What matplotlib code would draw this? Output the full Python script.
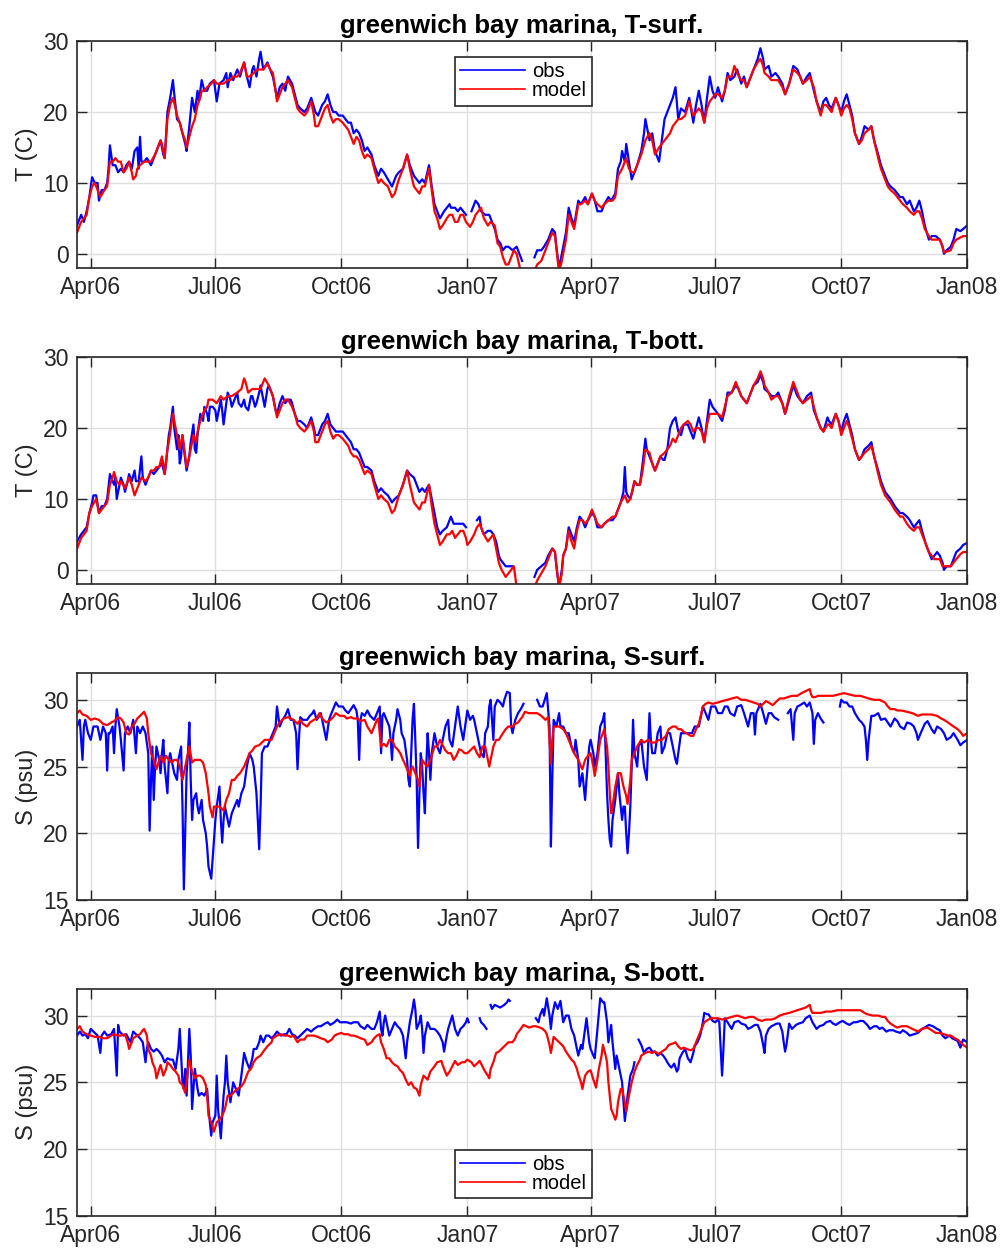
import numpy as np
import pandas as pd
import matplotlib
matplotlib.use("Agg")
import matplotlib.pyplot as plt
import matplotlib.dates as mdates

nan = np.nan
T0 = pd.Timestamp("2006-03-22")
T1 = pd.Timestamp("2008-01-01")

# (day since 22 Mar 2006, value) pairs; nan = gap in record
tsurf_obs = [(0,4),(3,5.5),(5,4.5),(7,6),(9,8),(11,10.8),(13,10),(15,10),(16,7.5),(18,9),(20,9),(22,10),(23,12),(24,15.3),(26,12.5),(28,12.5),(30,11.5),(32,12),(34,11.5),(36,12.5),(38,13),(40,12),(42,14.5),(44,15),(45,12),(46,16.5),(47,13),(49,13),(51,13.5),(54,12.5),(57,14),(59,15),(61,16),(63,14),(64,13.5),(66,20),(68,22),(70,24.5),(71,22.5),(73,19),(75,18.5),(77,17),(79,15.5),(80,14.5),(82,18),(84,22),(86,20),(88,23),(89,21.5),(91,24.5),(93,23),(95,23),(97,24),(100,24.5),(102,21.5),(104,24),(107,24.5),(109,25.5),(110,23.5),(112,25.5),(114,24.5),(117,26),(119,25),(122,27),(124,25),(126,23.5),(128,26),(129,26.5),(131,25),(133,27.5),(134,28.5),(136,26),(139,27),(141,26),(143,25),(146,22),(148,23.5),(150,24),(152,23),(154,25),(157,24),(159,22.5),(161,21),(163,20.5),(166,20),(168,20.5),(171,22),(174,20),(176,19.5),(179,21),(181,21.5),(183,22.5),(185,21),(187,20),(189,20),(191,19.5),(194,19.5),(196,19),(198,18.5),(200,18.5),(202,17),(204,17.5),(206,17),(208,16),(210,14.5),(212,15),(215,14),(217,12.5),(220,11),(222,12),(224,11.5),(227,10.5),(230,9.5),(233,11),(235,11.5),(238,12),(241,14),(243,12.5),(246,11),(248,10.5),(250,10),(252,10.5),(254,10),(257,12.5),(259,9.5),(261,7),(263,6),(265,5),(268,6),(270,6.5),(272,7),(273,6.5),(276,6.5),(278,6),(280,6.5),(282,6),(284,5.5),(285,nan),(288,6),(290,7),(291,7.5),(293,7),(295,6),(298,5.5),(301,5.5),(303,4.5),(305,3.5),(307,2),(309,1.5),(311,0.5),(313,1),(315,1),(318,0.5),(321,1),(323,0),(325,-1),(327,nan),(334,-0.5),(336,0.5),(339,0.5),(341,1),(344,2),(347,3.5),(349,3),(350,1),(352,-2),(354,0),(357,3),(359,6.5),(361,5),(363,4),(366,7.5),(368,7),(371,8),(373,7),(376,8.5),(378,7.5),(380,6),(383,6),(385,7),(388,8),(390,7.5),(393,8.5),(395,12),(397,13),(398,14.5),(400,13),(401,15.5),(403,13),(405,10.5),(407,11.5),(409,12.5),(412,14.5),(414,17),(415,19),(416,18),(418,16),(420,17),(422,14.5),(425,13),(427,16),(429,19),(431,20),(433,21),(435,22),(437,23.5),(439,19),(441,20.5),(444,20),(447,22),(450,18.5),(452,21),(454,23),(456,21),(458,18.5),(460,22),(462,25),(464,23),(466,22),(468,23.5),(471,21.5),(473,23),(475,25.5),(477,24.5),(480,25),(482,26),(485,24),(487,25),(489,23.5),(492,25),(494,26),(497,27.5),(499,29),(501,27.5),(502,26),(505,26.5),(507,25),(510,25.5),(512,25),(515,24),(517,22.5),(520,24),(523,26.5),(526,26),(528,25),(530,24),(533,25),(535,25.5),(538,23),(540,21.5),(543,20),(545,21.5),(547,22),(549,21),(551,20.5),(554,22),(556,21),(558,20),(560,21.5),(562,22.5),(564,21),(566,19.5),(568,17),(571,15.5),(573,16.5),(575,18),(578,17.5),(580,18),(582,16),(585,14),(587,12.5),(590,11),(592,10),(594,9.5),(597,9),(599,8.5),(601,8),(603,8),(606,7),(608,7.5),(611,6),(613,6.5),(615,7.5),(617,6),(619,4),(622,2),(624,2.5),(627,2.5),(630,2),(632,1),(633,0),(635,0.5),(638,1),(640,2),(642,3.5),(645,3.2),(647,3.5),(650,4)]

tsurf_mod = [(0,3),(3,4.5),(7,5.5),(9,8),(11,9.5),(13,10),(15,9),(17,8),(20,9),(22,9.5),(24,13),(26,13),(28,13.5),(30,13),(32,13),(34,11.5),(36,12),(38,13),(40,11.5),(41,10.5),(43,11),(44,12),(46,12.5),(49,13),(52,13),(54,13),(57,14),(59,15),(61,16),(62,15.5),(63,14.5),(64,13.5),(66,19),(68,21),(70,22),(72,20.5),(73,19.5),(75,18.5),(77,17),(79,16),(80,15),(82,16.5),(84,18),(86,19),(88,21),(90,22),(91,23),(93,23),(95,23.5),(98,24),(100,24.5),(102,24),(104,24),(107,24),(110,24.5),(112,24.5),(114,25),(117,25),(119,25.5),(122,27),(124,25),(126,25),(129,25.5),(132,26),(134,26),(136,26),(139,26.8),(141,26),(143,25.5),(145,23),(146,21.5),(148,22.5),(150,23.5),(152,24),(154,24.5),(157,23.5),(159,22),(161,20.5),(163,20),(166,19.5),(168,20),(171,21.5),(173,19.5),(174,18),(176,18),(179,19.5),(181,20.5),(183,21),(185,19.5),(187,18.5),(189,19),(191,19),(194,18.5),(196,18),(198,17.5),(200,16.5),(202,15.5),(204,16.5),(206,16),(208,14.5),(210,13.5),(212,14),(215,13.5),(217,12),(220,10),(222,10.5),(224,10),(227,9.5),(230,8),(232,8.5),(235,10.5),(238,12),(241,14),(243,12),(246,9.5),(248,9),(250,8.5),(252,9.5),(254,9.5),(257,12),(259,9),(261,6),(263,5),(265,3.5),(267,4),(270,5),(272,5.5),(274,5.5),(276,4.5),(278,4.5),(280,5.5),(282,5.5),(284,4.5),(287,3.8),(289,4.5),(291,5.5),(293,6),(295,6.5),(297,5),(300,4),(302,4.5),(305,4),(307,1.5),(309,1),(311,-0.5),(313,-1.5),(315,-1.5),(317,-0.5),(319,0.5),(321,0),(324,-2.5),(334,-2.5),(336,-1.5),(339,-1),(341,0),(344,1.5),(347,3),(349,2.5),(351,-1),(352,-2.5),(354,-1),(357,2),(359,5.5),(361,4.5),(363,3.5),(366,7),(368,7),(371,7.5),(373,7),(376,8.5),(378,7.5),(380,7),(383,6.5),(385,7),(388,7.5),(391,7.5),(393,8),(395,11),(398,12),(401,13.5),(403,12),(405,11.5),(407,11.5),(409,12.5),(412,14),(415,16),(418,17),(420,16),(422,14),(425,15),(427,15.5),(429,16),(431,16.5),(433,17),(435,18),(437,18.5),(439,19),(441,19),(444,19.5),(447,21.5),(450,19.5),(452,20),(454,20.5),(456,20),(458,18.5),(460,20.5),(462,21.5),(464,22),(466,22.5),(468,22.5),(471,22),(473,23),(475,25),(478,25),(480,26.5),(482,25.5),(485,24.5),(487,24.5),(489,23.5),(492,25),(494,26),(497,27),(499,27.5),(501,26.5),(502,25.5),(505,25),(507,24.5),(510,24.5),(512,24.5),(515,23.5),(517,22.5),(520,24),(523,26),(526,25.5),(528,25),(530,24),(533,24.5),(535,25),(538,23.5),(540,21.5),(543,19.5),(545,21),(547,21),(549,20.5),(551,20),(554,22),(556,21),(558,19.5),(560,20.5),(562,21),(564,20.5),(566,19),(568,17),(571,15.5),(573,16),(575,17),(578,17.5),(580,18),(582,16),(585,13.5),(587,12),(590,10.5),(592,9.5),(594,9),(597,8.5),(599,8),(601,7.5),(603,7),(606,6.5),(608,6),(611,5.5),(613,6),(615,6),(617,5),(619,3.5),(622,2.5),(624,2),(627,2),(630,2),(632,1),(633,0.2),(635,0.3),(638,0.5),(640,1.5),(642,2),(645,2.3),(647,2.5),(650,2.5)]

tbott_obs = [(0,4),(3,5),(5,5.5),(7,6),(9,8),(11,9.5),(12,10.5),(14,10.5),(16,8),(18,9),(20,9),(22,10),(24,13.5),(26,12.5),(27,12),(28,13),(29,10),(31,12),(32,13),(34,12),(35,11),(37,12.5),(38,13.5),(40,12.5),(42,14),(43,12.5),(45,12.5),(47,16),(48,13),(50,12),(52,13),(54,14),(56,13.5),(58,14),(60,14.5),(62,15),(64,13.5),(65,15),(67,19),(68,20),(70,23),(71,20),(73,17),(74,19),(75,15),(76,16),(77,19),(79,15.5),(80,14),(82,16),(83,18),(85,20.5),(86,17),(87,16.5),(88,19),(90,22),(92,21),(93,23),(95,22),(96,21),(97,23),(99,23),(101,22.5),(102,21),(104,23),(105,24),(106,22.5),(107,20.5),(109,23.5),(110,25),(112,24),(113,23),(115,24),(117,25),(118,23.5),(120,23),(122,24),(123,23),(125,22.5),(127,24.5),(128,24.5),(130,23),(131,23.5),(133,25),(134,26),(136,24),(137,23),(139,25.5),(140,26),(142,25),(143,24.5),(145,22.5),(146,22),(148,23.5),(150,24.5),(152,23.5),(154,24),(156,24),(157,23.5),(159,22),(161,21),(163,21),(166,20.5),(168,20),(171,21.5),(173,20),(174,19),(176,19),(179,20.5),(181,21),(183,22),(185,20.5),(187,20),(189,19.5),(191,19.5),(194,19.5),(196,19),(198,18.5),(200,18),(202,17),(204,17),(206,16.5),(208,15.5),(210,14.5),(212,14.5),(215,14),(217,12.5),(220,11),(222,11.5),(224,11),(227,10.5),(230,9.5),(232,10),(235,10.5),(238,12),(241,14),(243,13.5),(246,13),(248,12),(250,11),(252,11.5),(254,11),(257,12),(259,10),(261,8),(263,6),(265,5),(267,5.5),(270,6),(272,7),(273,7.5),(275,6.5),(278,6.5),(280,6.5),(282,6.5),(284,6),(285,nan),(292,7),(294,7.5),(295,6),(297,5),(300,5.5),(302,5.5),(304,5),(306,4),(308,2),(309,1.5),(311,1),(313,0.5),(315,0.5),(318,0.5),(319,nan),(334,-1),(336,0),(339,0.5),(342,1),(344,2),(347,3),(349,2.5),(350,0.5),(352,-2.5),(354,0),(355,2),(357,3),(359,6),(361,5),(363,4),(365,6),(367,7.5),(369,7),(371,6),(373,7),(376,8),(378,7.5),(380,6),(383,6),(385,6.5),(388,7),(391,7),(393,7.5),(395,8.5),(397,9.5),(399,11),(400,14.5),(401,11),(402,10.5),(404,10),(406,11.5),(407,12.5),(409,12),(411,12),(413,15),(415,18.5),(416,17),(418,16),(420,15),(422,14),(424,15),(426,16),(428,15.5),(429,15.5),(431,17),(433,20),(435,21),(437,21.5),(439,19.5),(441,19),(443,20.5),(446,20.5),(448,19.5),(450,18.5),(452,20),(454,21.5),(456,20),(458,18),(460,21),(462,24),(464,23),(466,22.5),(468,22),(471,21),(473,22.5),(475,25),(478,25),(481,26),(483,25.5),(485,24.5),(487,24),(489,23.5),(492,25),(494,26),(497,26.5),(499,27.5),(501,26.5),(502,25.5),(505,25),(507,24.5),(510,24.5),(512,25),(515,23.5),(517,22),(520,24),(523,26),(526,24.5),(528,24),(530,23.5),(533,24.5),(536,25),(538,22.5),(540,21.5),(543,20),(545,19.5),(548,21.5),(549,21),(551,20.5),(554,22),(556,21),(558,19.5),(560,21),(562,22),(564,20.5),(566,19),(568,17),(571,15.5),(573,16),(575,17),(578,17.5),(580,18),(582,16),(585,14),(587,12.5),(590,11),(592,10.5),(594,10),(597,9),(599,8.5),(601,8),(603,8),(606,7.5),(608,7),(611,6),(613,6.5),(615,7),(617,5.5),(620,3.5),(622,2.5),(624,1.5),(626,2),(628,2.5),(630,2),(632,1),(633,0),(635,0.5),(638,0.5),(640,1.5),(642,2.5),(645,3),(647,3.5),(650,3.8)]

tbott_mod = [(0,3),(3,4.5),(5,5),(7,5.5),(9,8),(11,9),(14,10),(16,8),(18,8.5),(20,9),(22,9.5),(24,12),(26,13),(27,13.8),(29,12.5),(31,12),(32,12.5),(35,11.5),(37,12.5),(38,13),(40,12),(42,10.5),(43,11),(45,12),(47,13),(50,12.5),(52,13),(54,14),(56,14),(58,14.5),(60,14.5),(62,16),(63,15),(64,13.5),(66,17),(67,18),(70,22),(72,20),(73,19),(75,17),(77,19),(79,16),(80,14.5),(82,16),(83,17),(85,19),(87,18),(88,19.5),(90,21),(93,22.5),(95,23),(96,24),(99,24),(102,23.5),(105,24.5),(107,24),(110,24.5),(113,24.5),(117,25),(120,25.5),(122,27),(123,26.5),(125,25),(128,25.5),(131,25.5),(134,25.5),(137,27),(140,26),(143,24.5),(145,22.5),(146,21.5),(148,22.5),(150,23.5),(152,24),(154,24),(157,23),(159,22),(161,20.5),(163,20),(166,19.5),(168,20),(171,21),(173,19.5),(174,18),(176,18),(179,19.5),(181,20.5),(183,21),(185,19.5),(187,18.5),(189,19),(191,19),(194,18.5),(196,18),(198,17.5),(200,16.5),(202,16),(204,16),(206,15.5),(208,14.5),(210,13.5),(212,14),(215,13.5),(217,12),(220,10),(222,10.5),(224,10),(227,9.5),(230,8),(232,8.5),(235,10.5),(238,12),(241,14),(243,12),(246,9.5),(248,9),(250,8.5),(252,9.5),(254,9.5),(257,12),(259,9),(261,6.5),(263,5),(265,3.5),(267,4),(270,5),(272,5),(274,5.5),(276,4.5),(278,5),(280,5.5),(282,5.5),(284,4.5),(285,3.5),(287,4),(290,5),(292,6),(294,6.5),(296,5.5),(297,5),(300,4),(302,4.5),(304,5),(306,3),(308,1),(310,0),(313,-1),(315,-0.5),(317,0),(319,0.5),(321,-2.5),(334,-2.5),(336,-1.5),(339,-0.5),(342,0.5),(344,1.5),(347,3),(349,2.5),(351,-1),(352,-2.5),(354,-0.5),(355,2),(357,3),(359,5.5),(361,4),(363,3),(365,5.5),(367,7),(369,7),(371,6.5),(373,7),(376,8.5),(378,7.5),(380,6.5),(383,6),(385,6.5),(388,7),(391,7.5),(393,7.5),(395,8.5),(397,9.5),(400,10.5),(402,9.5),(404,10),(407,12.5),(409,12),(411,12),(413,14),(415,17),(418,16.5),(420,15),(422,14),(424,15),(426,16),(429,16.5),(431,17),(433,17.5),(435,18.5),(437,18),(439,19),(441,20),(443,20.5),(446,21),(448,20.5),(450,19.5),(452,20),(454,20),(456,19.5),(458,18),(460,20.5),(462,22),(464,22),(466,22),(468,22),(471,21.5),(473,23),(475,24.5),(478,25),(481,26.5),(483,25.5),(485,24.5),(487,24),(489,23.5),(492,25),(494,26),(497,27),(499,28),(501,27),(502,26),(505,25),(507,24),(510,24.5),(512,24.5),(515,23.5),(517,22),(520,24.5),(523,26.5),(526,25),(528,24),(530,23.5),(533,24),(536,24.5),(538,23),(540,21.5),(543,20),(545,19.5),(548,20.5),(549,20.5),(551,20),(554,22),(556,21),(558,19),(560,20),(562,21),(564,20),(566,18.5),(568,17),(571,15.5),(573,16),(575,16.5),(578,17),(580,17.5),(582,16),(585,13.5),(587,12),(590,10.5),(592,10),(594,9.5),(597,8.5),(599,8),(601,7.5),(603,7.5),(606,6.5),(608,6),(611,5.5),(613,6),(615,6),(617,5),(620,3.5),(622,2.5),(624,2),(626,1.5),(628,1.5),(630,1.5),(632,0.5),(633,0.5),(635,0.5),(638,0.5),(640,1),(642,1.5),(645,2.2),(647,2.5),(650,2.5)]

ssurf_obs = [(0,28),(2,28.5),(4,25.5),(5,28),(6,28.5),(8,27.5),(10,27),(12,28),(15,28),(17,27),(19,28),(21,27.5),(22,24.7),(23,27.5),(24,27.5),(26,28),(27,26),(28,28),(29,29.3),(31,28),(32,27),(34,24.7),(35,27.5),(37,28),(39,27.5),(41,28.5),(43,26),(44,28),(46,27.5),(48,28),(50,27.5),(52,26),(53,20.2),(54,24),(55,26.5),(56,22.5),(57,25),(58,26.5),(60,25.5),(61,24.5),(62,26),(63,27),(64,25),(66,23),(67,25.5),(68,26),(70,25),(71,24.5),(73,24),(74,25.5),(76,26.5),(77,22),(78,15.8),(79,20),(80,24.5),(81,26),(82,28.3),(83,24),(84,21),(85,22.5),(87,23),(88,22),(89,21.5),(91,22.5),(92,21),(94,20),(95,19),(96,17.5),(98,16.6),(99,18),(100,19.5),(101,21),(102,22),(104,23.5),(105,21),(106,19.3),(107,21),(108,22),(110,21),(111,20.5),(113,21.5),(115,22),(117,22.5),(118,22),(120,23),(122,23.5),(124,25),(126,26),(128,25.5),(129,25),(131,23),(132,21),(133,18.8),(134,22),(135,26),(137,26.5),(139,26.5),(141,27),(143,27.5),(145,28),(146,29.5),(148,28),(150,28.5),(152,28.8),(154,29.3),(156,28.5),(158,28.5),(160,27.5),(161,24.8),(162,27),(163,28.7),(165,28.5),(168,28.5),(170,28.8),(172,29),(173,29.2),(175,28.5),(177,28.8),(178,29),(180,28),(182,27),(184,28.5),(185,28.8),(187,29.3),(189,29.8),(191,29.5),(194,29.5),(196,29.2),(198,29),(200,29.3),(202,29.6),(204,29.2),(205,28.5),(206,25.5),(207,28.5),(208,29),(210,28.8),(212,29.2),(214,28.8),(217,28.5),(219,29),(221,29.5),(222,26),(223,28.8),(224,29),(226,28.5),(228,28),(229,27),(230,25.5),(231,27.5),(233,28.5),(234,29.3),(236,28.5),(237,27.5),(239,27),(241,25.5),(242,24),(243,23.5),(244,26),(245,28.5),(246,29.7),(247,27),(248,24),(249,18.9),(250,23),(251,26),(252,25),(253,23),(254,21.5),(255,25),(256,27.5),(257,26),(258,24),(259,26),(261,27.5),(263,26.5),(265,26),(267,27),(269,28),(271,28.5),(272,27),(274,26.5),(276,28),(278,29.5),(280,28),(282,27),(284,28.5),(285,29.2),(287,28.5),(289,28.8),(290,28.5),(292,27.5),(294,26.5),(295,26),(297,25.7),(298,27.5),(300,28),(301,29.5),(302,30),(304,27),(305,29.5),(307,30),(309,29.8),(311,29.5),(312,30),(314,30.6),(316,30.5),(317,28),(318,27.5),(320,28.5),(322,29),(324,29.3),(326,29.7),(327,nan),(336,30),(338,29.5),(340,29.5),(343,30.5),(345,28),(346,19),(347,24),(348,28.5),(350,28),(352,29),(353,28),(355,28),(357,27.5),(359,27.5),(361,26.5),(363,26),(364,27),(366,25.5),(367,23.5),(369,24.5),(371,22.5),(372,24),(374,26.5),(375,27),(377,26),(378,25),(380,26),(382,28),(384,28.5),(385,29),(386,26),(387,23),(388,21),(389,19.5),(390,19),(391,21),(393,22.5),(395,24.5),(396,23),(398,21),(399,22),(400,22),(401,20),(402,18.5),(403,20),(404,22),(405,25),(406,28.5),(407,26),(409,25),(410,26.5),(412,27),(414,25),(416,24),(417,26.5),(418,29),(419,27),(420,26),(422,26),(424,27.5),(426,28),(427,26),(429,26.5),(431,27.5),(433,27.5),(435,26.5),(437,25.5),(438,25.2),(439,26),(441,27.5),(445,27.5),(449,27.5),(451,28),(454,28),(456,29),(457,29.5),(459,29),(461,28.5),(463,29.5),(466,29.5),(468,29),(471,29),(473,29.5),(475,29.5),(477,29),(480,28.8),(482,29.5),(485,29.6),(487,29),(490,28),(492,29),(494,29),(495,27.4),(496,29),(499,29.7),(501,29),(503,28.2),(505,29),(507,29),(509,28.7),(512,28.5),(513,nan),(519,29),(521,29.3),(523,27),(524,29),(526,29.5),(528,29.6),(531,29.8),(533,29.5),(535,29.8),(537,29),(538,26.7),(539,28.5),(541,29),(543,28.6),(545,28.3),(546,nan),(557,29.5),(558,30),(560,29.8),(562,29.8),(564,29.5),(566,29.5),(568,29),(571,28.5),(573,28.3),(575,28),(576,27),(577,25.5),(578,27),(580,28.8),(582,28.8),(585,29),(587,28.5),(590,28.6),(592,28.3),(594,28),(597,28.6),(599,28.4),(601,28),(604,27.8),(606,28.3),(609,28.2),(611,28),(613,27.5),(614,27),(616,27.5),(619,28.2),(621,28.4),(624,27.8),(626,27.5),(628,28),(631,27.8),(633,27.5),(635,27),(638,27.2),(640,27.5),(643,27),(645,26.6),(647,26.8),(650,27)]

ssurf_mod = [(0,29),(2,29.2),(4,28.9),(7,28.8),(10,28.5),(13,28.6),(16,28.5),(19,28.2),(22,28.1),(25,28.3),(27,28.4),(30,28.7),(32,28.6),(34,28.3),(36,27.5),(38,27.4),(40,28),(42,28.2),(44,28.6),(46,28.8),(48,29),(49,29.1),(51,28.6),(52,27.5),(54,26),(56,25.5),(58,24.8),(60,25.5),(61,25.8),(63,25.3),(65,25.8),(67,25.5),(69,25.3),(71,25.5),(73,25.5),(75,25),(76,24.5),(77,24),(79,25),(81,26),(82,26.5),(84,25.3),(86,25.5),(88,25.5),(90,25.5),(92,25.3),(94,24.5),(96,23),(97,22),(99,21.2),(100,22),(102,22),(104,22),(106,21.8),(107,21.7),(109,22.5),(111,23),(113,24),(115,24),(117,24.3),(119,24.5),(122,25),(124,25.5),(126,26),(128,26.2),(130,26.5),(133,26.6),(135,26.8),(137,27),(139,27),(142,27),(144,27.5),(146,28),(148,28.3),(151,28.6),(154,28.7),(156,28.6),(158,28.5),(161,28.2),(163,28.5),(165,28.2),(168,28),(170,28.3),(173,28.5),(175,28.6),(177,29),(179,28.6),(182,28.3),(185,28.5),(187,28.7),(189,29),(192,28.8),(195,28.8),(197,28.6),(200,28.7),(202,28.6),(205,28.6),(207,28.4),(210,28.5),(212,28),(215,27.5),(217,28),(219,28.5),(220,28.6),(221,27.5),(222,26.5),(224,26.7),(226,26.5),(228,27),(230,27),(232,26.5),(234,26.3),(236,26),(238,25.5),(239,25.3),(241,24.8),(243,24.3),(244,24.8),(245,25),(247,24.5),(249,24),(250,23.5),(251,24.5),(252,25.5),(254,25.2),(256,25),(258,25.5),(261,26.5),(263,26.5),(265,27),(267,26.6),(269,26.2),(271,26),(273,26),(275,25.5),(277,25.8),(279,26.3),(281,26.2),(283,26),(285,26),(288,26.3),(290,26.5),(292,26),(294,25.7),(296,26.5),(298,26.5),(300,25.5),(301,25),(303,26),(304,26.5),(306,27),(308,27),(311,27.5),(313,27.8),(315,28),(318,28),(320,28.2),(322,28.3),(325,28.7),(327,29.1),(330,29),(333,29),(336,29),(339,28.8),(342,28.5),(344,28.7),(345,27),(346,25.2),(347,27),(348,28),(350,28),(352,28),(355,27.8),(357,27.5),(359,27),(361,26.5),(363,26),(366,25.5),(368,25),(369,24.8),(371,25.5),(373,25.8),(375,26),(377,25),(378,24.3),(380,25.5),(382,27),(384,27.5),(385,27.8),(387,26.5),(388,25),(389,23),(390,21.5),(391,22),(393,23.5),(395,24.5),(397,24.5),(399,23.5),(401,22.8),(402,22.2),(404,24),(405,25.5),(407,26),(409,26.5),(412,27),(414,26.8),(417,27),(419,26.8),(422,26.8),(425,27),(427,27),(430,27.3),(432,27.8),(435,28),(437,28),(439,27.8),(441,27.8),(443,27.6),(445,27.5),(448,27.3),(450,27.3),(452,27.8),(454,28.2),(456,29),(457,29.5),(459,29.7),(461,29.8),(464,29.7),(468,29.8),(471,29.9),(475,30),(478,30.1),(482,30.2),(485,30),(488,30),(491,29.9),(494,29.8),(497,29.7),(499,29.5),(501,29.7),(503,29.9),(505,29.8),(508,29.6),(510,29.8),(513,30.1),(516,30.1),(519,30.2),(522,30.3),(526,30.3),(529,30.5),(531,30.6),(533,30.7),(535,30.8),(536,30.4),(537,30.2),(539,30.2),(541,30.3),(545,30.3),(548,30.3),(552,30.3),(556,30.4),(560,30.5),(564,30.4),(568,30.3),(572,30.3),(575,30.2),(578,30.1),(582,30),(586,30),(590,29.8),(592,29.5),(594,29.3),(597,29.3),(599,29.2),(602,29.2),(606,29.1),(610,29),(614,28.8),(617,28.9),(621,28.9),(624,28.9),(628,28.8),(631,28.6),(633,28.5),(636,28.3),(640,28),(643,27.8),(645,27.6),(647,27.3),(650,27.5)]

sbott_obs = [(0,28.5),(2,28.8),(4,28.5),(6,28.6),(8,28.3),(10,29),(12,28.8),(15,28.5),(17,27.2),(18,28.5),(20,28.8),(22,28.5),(25,28.6),(27,29),(29,25.5),(30,29.3),(31,28.8),(34,28.5),(36,28.6),(39,28),(41,28.8),(43,28.6),(46,28.3),(48,28),(50,26.5),(51,27.5),(52,28),(54,27.5),(56,27.3),(58,27.5),(60,27.3),(62,27),(64,26.5),(66,26.8),(68,26.7),(70,26.7),(72,26),(74,27.5),(75,29),(76,27),(77,25),(78,24.5),(79,26),(80,24),(81,26.5),(82,29),(83,27),(84,23),(85,24.5),(86,26),(88,24.5),(89,24),(91,24.2),(93,24),(95,24.5),(96,23),(98,21),(99,22),(101,22.5),(102,25.5),(103,23),(105,20.8),(106,22.5),(107,24),(108,25),(109,27),(110,25),(112,23.5),(114,25),(116,24.5),(118,24),(120,25.5),(122,27.2),(124,26.5),(126,26),(128,26.8),(129,27.5),(131,27.5),(133,28),(134,28.5),(136,28),(138,28.5),(140,28.5),(142,28.3),(144,28.5),(146,28.8),(149,28.5),(151,28.6),(153,28.6),(155,29),(157,28.6),(159,28.5),(161,28.3),(163,28.5),(166,28.8),(168,29),(171,28.8),(173,29),(176,29.2),(178,29.2),(181,29.4),(183,29.5),(185,29.3),(188,29.5),(190,29.7),(192,29.5),(195,29.5),(197,29.5),(200,29.4),(202,29.5),(205,29.5),(207,29.2),(210,29),(212,29.3),(215,29),(217,29),(219,29.5),(221,30.3),(222,29),(223,28.5),(224,29.5),(225,30),(227,29),(228,28.5),(230,29),(232,29.5),(234,29.2),(236,29),(238,28.5),(240,26.8),(241,28),(243,29.5),(245,30.5),(246,31.2),(247,30.5),(248,29),(250,29.5),(251,30),(252,29),(253,27.2),(254,28.5),(256,29.5),(258,29),(261,29),(263,28.8),(265,28.5),(267,28),(268,27.3),(270,28.5),(271,29),(274,30),(276,29),(278,28.5),(280,29),(282,29.2),(284,29.5),(285,29.8),(286,29.5),(287,nan),(294,29.8),(295,29.5),(297,29.3),(299,29),(300,nan),(302,30.8),(303,30.5),(305,30.8),(307,30.7),(309,30.6),(312,30.8),(314,31),(315,31.2),(316,31.1),(317,nan),(335,29.8),(337,29.5),(338,30),(340,30.5),(341,30),(343,31.3),(345,30),(346,29),(347,30),(349,31),(351,30.5),(353,31.1),(355,29.5),(357,30),(359,30),(361,29),(363,28.5),(365,27.5),(366,27),(368,27.8),(369,27.5),(371,29),(372,29.8),(374,28),(375,27.5),(377,27),(378,26.8),(380,29),(382,31.3),(384,31),(385,31),(387,29.5),(388,28),(390,29.3),(391,28),(393,26),(394,27),(395,26.5),(397,25.5),(398,25),(399,23.5),(400,22.1),(401,23),(402,24),(404,25.5),(406,26),(407,26.5),(408,nan),(410,28.2),(412,27.8),(414,27.2),(416,27.5),(418,27.6),(420,27.3),(422,27.3),(424,27),(426,27.2),(428,27),(430,26.7),(431,26.5),(433,26.2),(434,26.1),(436,26.4),(438,25.8),(439,26),(440,26.8),(442,27.2),(444,27.5),(446,26.8),(448,26.5),(450,27.2),(451,27.7),(453,28),(455,28.5),(457,29.5),(458,30.2),(460,30.1),(461,30.1),(463,29.8),(464,29.6),(466,29.5),(468,29.7),(469,29.5),(470,27.5),(471,25.5),(472,27.5),(473,29.8),(475,29.5),(478,29),(480,29.5),(483,29.6),(485,29.4),(488,29.3),(490,29),(492,29.1),(495,29.3),(497,29.3),(499,28.8),(501,27.8),(502,27.2),(503,28.5),(505,29),(507,29.2),(509,29.3),(511,29.4),(513,29.4),(515,28.8),(516,28),(517,27.3),(518,27.8),(520,29.4),(522,29),(525,29.3),(527,29.4),(530,29.5),(532,29.8),(535,30),(537,29.5),(540,29),(542,29.2),(545,29.3),(547,29.5),(550,29.6),(552,29.4),(554,29.3),(557,29.5),(559,29.6),(562,29.4),(564,29.3),(567,29.5),(569,29.5),(572,29.6),(574,29.6),(577,29.3),(579,29),(582,29.2),(584,29.2),(586,29),(588,29.1),(591,28.8),(593,28.9),(596,28.9),(598,28.8),(601,28.7),(603,28.9),(606,28.7),(608,28.5),(611,28.6),(614,28.7),(617,29),(619,29.1),(622,29.3),(625,29.2),(628,29),(630,28.9),(632,28.5),(634,28.3),(637,28.5),(639,28.3),(641,28.2),(643,28.1),(645,27.6),(647,28.2),(650,28)]

sbott_mod = [(0,29),(2,29.2),(4,28.8),(7,28.6),(10,28.5),(13,28.4),(16,28.4),(19,28.3),(22,28.3),(25,28.5),(27,28.6),(30,28.5),(32,28.5),(35,28.6),(37,28),(38,27.5),(40,28),(41,28.3),(44,28.5),(46,28.6),(48,28.9),(49,29),(51,28.5),(52,27.5),(54,27),(55,26.5),(57,26),(58,25.3),(60,26),(61,26.3),(63,25.5),(65,26),(66,26.5),(68,26.3),(70,26),(72,25.8),(74,25.5),(75,25),(77,24.8),(79,24.2),(80,25),(81,26),(82,26.7),(84,25.8),(86,25.3),(88,25.5),(90,25.5),(92,25.3),(94,24.8),(95,24),(96,22.5),(98,22),(100,21.3),(102,22),(104,22.2),(106,22.5),(108,23),(110,24),(112,24),(115,24.3),(117,24.5),(120,24.7),(122,25),(125,25.8),(127,26),(129,26.5),(131,26.8),(134,27),(136,27.3),(139,27.7),(142,28),(143,28.3),(146,28.5),(149,28.6),(151,28.5),(154,28.5),(156,28.4),(158,28.5),(161,28),(163,28.2),(166,28.2),(168,28.5),(171,28.5),(173,28.5),(176,28.4),(178,28.3),(181,28.2),(183,28),(186,28.2),(188,28.5),(190,28.6),(193,28.7),(195,28.6),(198,28.6),(200,28.5),(202,28.5),(205,28.4),(207,28.3),(210,28.2),(212,27.8),(215,28),(217,28.3),(219,28.5),(221,28.6),(222,28),(224,27.5),(226,26.8),(228,26.8),(230,26.5),(232,26.3),(234,26.2),(236,25.9),(238,25.7),(240,25.2),(242,24.8),(244,25),(246,24.6),(248,24.5),(250,24),(251,24.8),(253,25.5),(256,25.2),(258,25.8),(261,26.2),(263,26.5),(266,26.6),(268,26),(270,25.5),(272,25.8),(274,26.2),(276,26.6),(278,26.3),(281,26.5),(283,26.5),(285,26.7),(288,26.5),(290,26.2),(292,26.4),(294,26.6),(296,26.2),(298,25.8),(300,25.5),(301,25.3),(302,26),(304,26.5),(306,27.2),(308,27.3),(311,27.6),(313,27.8),(315,28),(318,28),(320,28.3),(321,28.6),(324,29),(326,29.3),(328,29.2),(330,29.1),(333,29.2),(335,29.2),(338,29.1),(340,29),(342,28.8),(343,28.6),(345,27.8),(346,27.2),(347,27.8),(348,28.4),(350,28.2),(352,28),(355,27.7),(357,27.3),(359,27),(361,26.7),(363,26.5),(365,26),(366,25.6),(368,25),(369,24.5),(370,25),(371,25.5),(373,25.8),(375,25.9),(377,25.2),(379,24.6),(381,26),(383,27),(384,27.8),(386,27),(387,26.5),(388,25),(390,23),(392,22.5),(393,22.2),(394,22.5),(395,23.5),(397,24.5),(398,24.5),(400,23.5),(401,22.8),(403,24),(405,25),(407,25.8),(409,26.3),(411,26.7),(412,27),(415,27.2),(417,27.3),(420,27.2),(422,27.3),(425,27.1),(427,27.3),(430,27.5),(432,27.8),(435,27.9),(437,28),(439,27.7),(441,27.5),(443,27.6),(445,27.5),(448,27.4),(450,27.5),(452,28),(454,28.5),(456,29),(458,29.5),(461,29.7),(463,29.8),(466,29.8),(468,29.8),(471,29.7),(475,29.8),(478,29.9),(482,30),(485,29.9),(488,29.8),(491,29.9),(494,29.9),(497,29.7),(500,29.6),(503,29.7),(507,29.7),(510,29.8),(513,30),(516,30.1),(520,30.2),(523,30.3),(526,30.4),(529,30.5),(532,30.6),(535,30.8),(536,30.4),(537,30.2),(540,30.2),(543,30.2),(547,30.3),(551,30.3),(555,30.4),(558,30.4),(562,30.4),(565,30.4),(569,30.4),(572,30.4),(575,30.2),(577,30.1),(581,30),(585,30),(588,29.9),(590,29.9),(592,29.6),(594,29.4),(597,29.2),(599,29.1),(602,29.2),(606,29.2),(610,29),(614,28.8),(617,29),(621,29.1),(624,28.9),(627,28.7),(630,28.7),(633,28.6),(636,28.5),(638,28.5),(641,28.3),(643,28.2),(645,28),(647,27.8),(650,27.6)]

titles = ["greenwich bay marina, T-surf.", "greenwich bay marina, T-bott.",
          "greenwich bay marina, S-surf.", "greenwich bay marina, S-bott."]
ylabels = ["T (C)", "T (C)", "S (psu)", "S (psu)"]
ylims = [(-2, 30), (-2, 30), (15, 32), (15, 32)]
yticks = [[0, 10, 20, 30], [0, 10, 20, 30], [15, 20, 25, 30], [15, 20, 25, 30]]
series = [(tsurf_obs, tsurf_mod), (tbott_obs, tbott_mod),
          (ssurf_obs, ssurf_mod), (sbott_obs, sbott_mod)]


def unpack(pairs):
    arr = np.array(pairs, dtype=float)
    return T0 + pd.to_timedelta(arr[:, 0], unit="D"), arr[:, 1]


plt.rcParams['font.family'] = ['Liberation Sans', 'DejaVu Sans']
fig = plt.figure(figsize=(10.07, 12.5), dpi=100)
bottoms = [0.7856, 0.5328, 0.280, 0.0274]
dark = '0.15'

for i in range(4):
    ax = fig.add_axes([0.0765, bottoms[i], 0.884, 0.1815])
    obs, mod = series[i]
    x, y = unpack(obs)
    ax.plot(x, y, color=(0, 0, 1), lw=1.6, label="obs")
    x, y = unpack(mod)
    ax.plot(x, y, color=(1, 0, 0), lw=1.6, label="model")

    ax.set_xlim(T0, T1)
    ax.set_ylim(*ylims[i])
    ax.set_yticks(yticks[i])
    ax.xaxis.set_major_locator(mdates.MonthLocator(bymonth=[1, 4, 7, 10]))
    ax.xaxis.set_major_formatter(mdates.DateFormatter('%b%y'))
    ax.grid(True, color='0.87', lw=1)
    ax.set_axisbelow(True)
    ax.tick_params(direction='in', top=True, right=True, length=7, width=1,
                   labelsize=16.5, color=dark, labelcolor=dark, pad=6)
    for s in ax.spines.values():
        s.set_color(dark)
        s.set_linewidth(1.2)
    ax.set_title(titles[i], fontsize=18.5, fontweight='bold', pad=6)
    ax.set_ylabel(ylabels[i], fontsize=17, color=dark, labelpad=4)

    if i == 0:
        anchor = (0.4247, 0.928)
    elif i == 3:
        anchor = (0.4247, 0.289)
    else:
        continue
    leg = ax.legend(loc='upper left', bbox_to_anchor=anchor, borderaxespad=0,
                    fontsize=14.5, fancybox=False, edgecolor=dark, framealpha=1,
                    handlelength=3.2, handletextpad=0.35, labelspacing=0.0,
                    borderpad=0.25)
    leg.get_frame().set_linewidth(1.2)
    for h in leg.get_lines():
        h.set_linewidth(1.2)

fig.savefig("out.png", dpi=100)
